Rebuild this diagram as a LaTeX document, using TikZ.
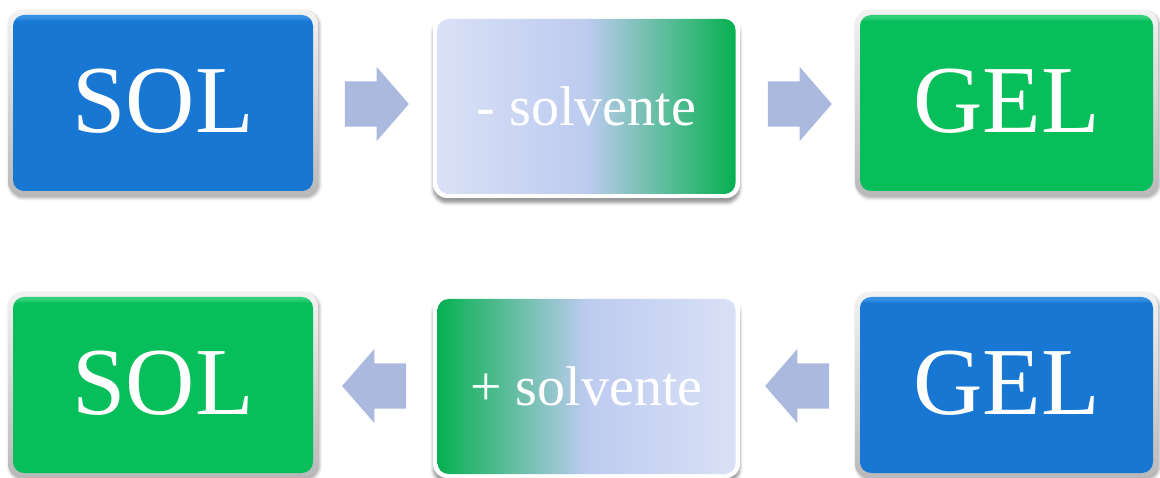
\documentclass[tikz,border=0pt]{standalone}
\usepackage{fontspec}
\setmainfont{Liberation Serif}
\usetikzlibrary{shapes.arrows,shadows.blur,calc}
\definecolor{boxblue}{HTML}{1777D3}
\definecolor{boxblueL}{HTML}{3590E2}
\definecolor{boxgreen}{HTML}{06BE5A}
\definecolor{boxgreenL}{HTML}{2FD078}
\definecolor{arrowc}{HTML}{ABB9DF}
\definecolor{gradA}{HTML}{DAE1F6}
\definecolor{gradB}{HTML}{BDCBF0}
\definecolor{gradC}{HTML}{06B050}
\pgfdeclarehorizontalshading{solvR}{100bp}{color(0bp)=(gradA); color(25bp)=(gradA); color(50bp)=(gradB); color(75bp)=(gradC); color(100bp)=(gradC)}
\pgfdeclarehorizontalshading{solvL}{100bp}{color(0bp)=(gradC); color(25bp)=(gradC); color(50bp)=(gradB); color(75bp)=(gradA); color(100bp)=(gradA)}
\pgfdeclareverticalshading{blueS}{100bp}{color(0bp)=(boxblue); color(73.3bp)=(boxblue); color(74.3bp)=(boxblueL); color(100bp)=(boxblueL)}
\pgfdeclareverticalshading{greenS}{100bp}{color(0bp)=(boxgreen); color(73.3bp)=(boxgreen); color(74.3bp)=(boxgreenL); color(100bp)=(boxgreenL)}
\tikzset{
  frame/.style={rounded corners=14pt, minimum width=310pt, minimum height=186pt, inner sep=0pt, outer sep=0pt,
    top color=gray!10, bottom color=gray!55,
    blur shadow={shadow xshift=1.5pt, shadow yshift=-2pt, shadow blur radius=3pt, shadow opacity=35}},
  colbox/.style={rounded corners=11pt, minimum width=300pt, minimum height=176pt, inner sep=0pt, outer sep=0pt,
    text=white, font=\fontsize{96}{96}\selectfont, shade},
  bluebox/.style={colbox, shading=blueS},
  greenbox/.style={colbox, shading=greenS},
  midframe/.style={rounded corners=14pt, minimum width=307pt, minimum height=183pt, inner sep=0pt, outer sep=0pt,
    fill=white, blur shadow={shadow xshift=0pt, shadow yshift=-5pt, shadow blur radius=3pt, shadow opacity=40}},
  midbox/.style={rounded corners=11pt, minimum width=298pt, minimum height=175pt, inner sep=0pt, outer sep=0pt,
    text=white, font=\fontsize{56}{56}\selectfont, shade},
  fatarrow/.style={single arrow, fill=arrowc, minimum height=64pt, inner xsep=0pt, inner ysep=22.5pt,
    single arrow head extend=14.5pt, single arrow tip angle=98, outer sep=0pt}
}
\begin{document}
\begin{tikzpicture}[x=1pt,y=1pt]
\useasboundingbox (0,0) rectangle (1160,477);
% top row
\node[frame] (solF1) at (163,374) {};
\node[bluebox] (sol1) at (solF1) {\raisebox{5pt}{SOL}};
\node[midframe] (midF1) at (586.5,370.5) {};
\node[midbox, shading=solvR] (mid1) at (midF1) {\raisebox{-5pt}{- solvente}};
\node[frame, minimum width=303pt] (gelF1) at (1006.5,374) {};
\node[greenbox, minimum width=293pt] (gel1) at (gelF1) {\raisebox{5pt}{GEL}};
\node[fatarrow] (a1) at (367,373) {};
\node[fatarrow] (a2) at (790,373) {};
% bottom row
\node[frame] (solF2) at (163,92) {};
\node[greenbox] (sol2) at (solF2) {\raisebox{5pt}{SOL}};
\node[midframe] (midF2) at (586.5,90.5) {};
\node[midbox, shading=solvL] (mid2) at (midF2) {\raisebox{-5pt}{+ solvente}};
\node[frame, minimum width=303pt] (gelF2) at (1006.5,92) {};
\node[bluebox, minimum width=293pt] (gel2) at (gelF2) {\raisebox{5pt}{GEL}};
\node[fatarrow, shape border rotate=180] (a3) at (384,91) {};
\node[fatarrow, shape border rotate=180] (a4) at (807,91) {};
\end{tikzpicture}
\end{document}
